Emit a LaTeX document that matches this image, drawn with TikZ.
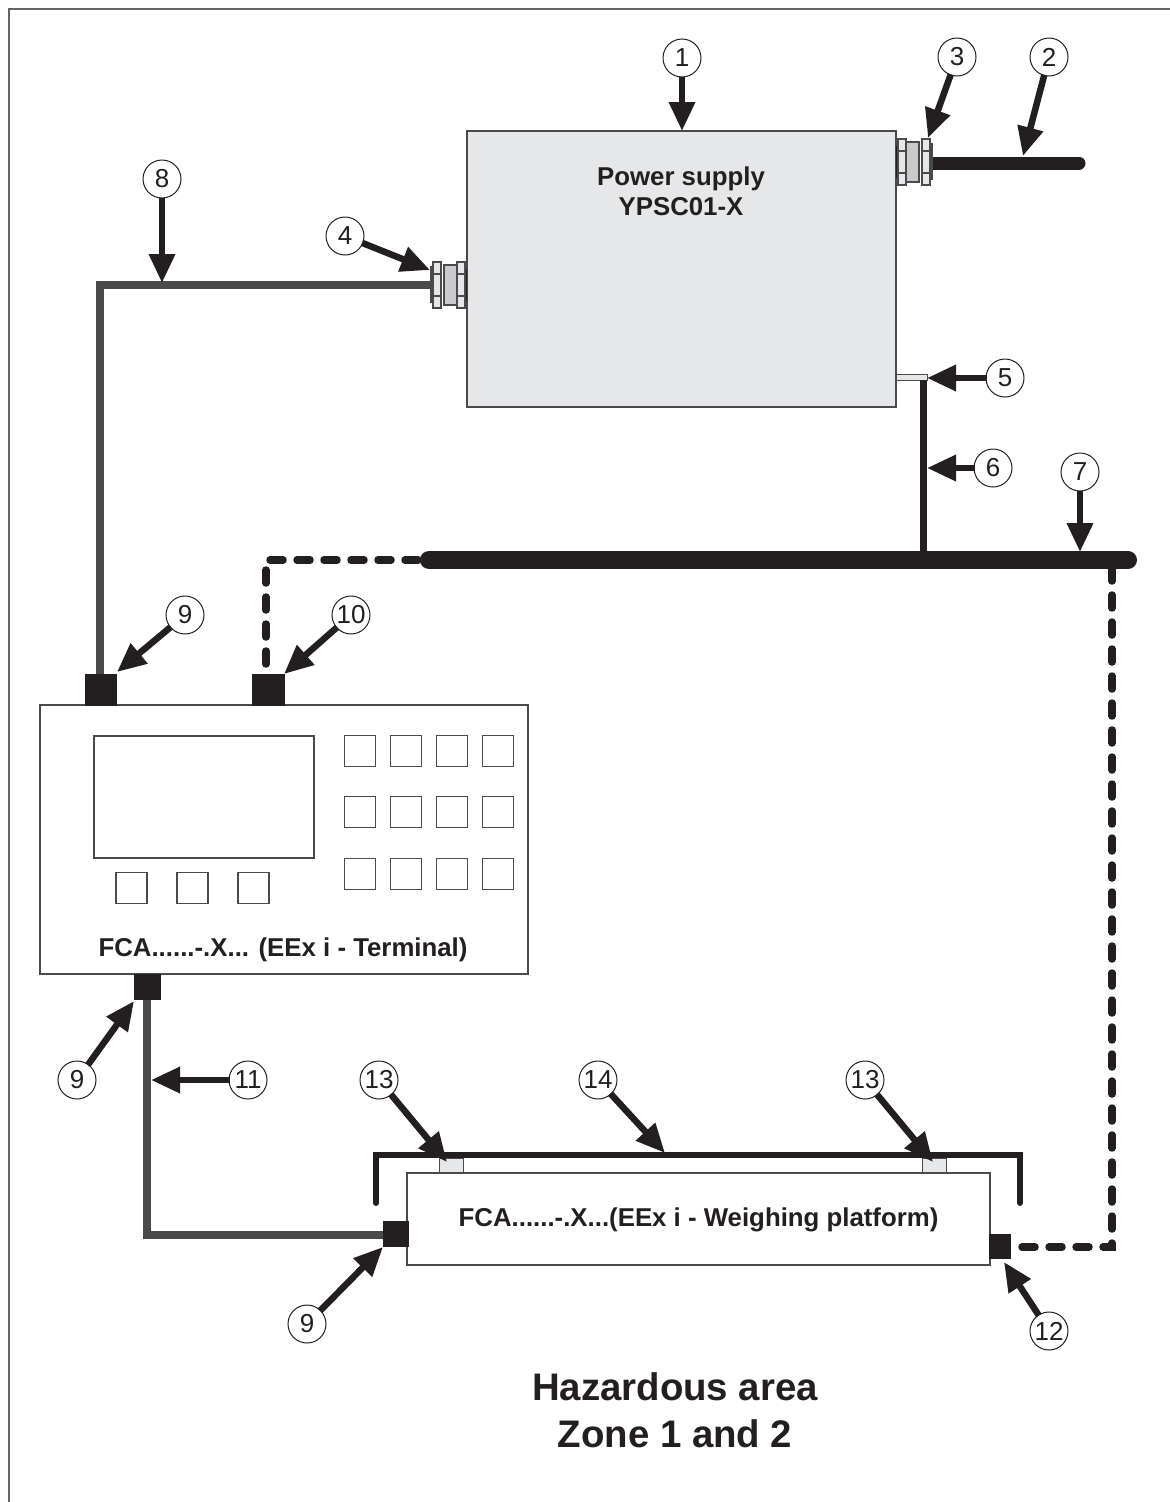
\documentclass[tikz,border=0pt]{standalone}
\usepackage{fontspec}
\setmainfont{Liberation Sans}
\usetikzlibrary{arrows.meta}
\definecolor{ink}{HTML}{231F20}
\definecolor{edge}{HTML}{4A4A4C}
\definecolor{cablegrey}{HTML}{4A4A4A}
\definecolor{boxgrey}{HTML}{E6E7E8}
\definecolor{glandgrey}{HTML}{C9CACC}
\tikzset{
  numcirc/.style={circle,draw=ink,line width=1pt,fill=white,minimum size=38pt,inner sep=0pt,
    font=\fontsize{26}{26}\selectfont,text=ink},
  pointer/.style={draw=ink,line width=6.5pt,-{Triangle[length=29pt,width=25pt]},shorten <=-1pt},
  panel/.style={rectangle,draw=edge,line width=1.3pt,inner sep=0pt},
  keybox/.style={rectangle,draw=edge,line width=1.3pt,inner sep=0pt,minimum size=31pt},
  plug/.style={rectangle,fill=ink,inner sep=0pt},
  label/.style={font=\bfseries\fontsize{25.8}{30}\selectfont,text=ink,align=center},
  darkcable/.style={draw=cablegrey,line width=8pt,line join=miter},
  blackcable/.style={draw=ink,line cap=round},
  buscable/.style={draw=ink,line width=7.5pt,line cap=round,dash pattern=on 13pt off 14pt},
  plate/.style={draw=edge,line width=1.5pt,fill=boxgrey},
  body/.style={draw=edge,line width=1.5pt,fill=glandgrey},
}
\newcommand{\glandshape}{%
  % drawn for a box face on the right at x=0; centre height y=0
  \fill[ink] (-3,-16) rectangle (1,16);
  \draw[body] (-22,-20) rectangle (-8,20);
  \draw[plate] (-35,-18) rectangle (-32,17);
  \draw[plate] (-33,-23) rectangle (-25,23);
  \draw[plate] (-9,-23) rectangle (-1,23);
  \draw[edge,line width=1.5pt] (-33,-11) -- (-25,-11) (-33,11) -- (-25,11) (-9,-11) -- (-1,-11) (-9,11) -- (-1,11);
}
\begin{document}
\begin{tikzpicture}[x=1pt,y=-1pt]
\useasboundingbox (0,0) rectangle (1170,1502);
\fill[white] (0,0) rectangle (1170,1502);
% frame
\draw[draw=edge!85!white,line width=2pt] (9,1502) -- (9,9) -- (1170,9);

% power supply
\node[panel,fill=boxgrey,minimum width=429pt,minimum height=276pt] (psu) at (681.5,269) {};
\node[label] (psulabel) at (681,191) {Power supply\\YPSC01-X};

% cables behind
\coordinate (c2s) at (930,163);
\coordinate (c2e) at (1079,163);
\draw[blackcable,line width=13pt] (c2s) -- (c2e);
\coordinate (c8a) at (432,285);
\coordinate (c8b) at (100,285);
\coordinate (p9a) at (100,680);
\draw[darkcable] (c8a) -- (c8b) -- (p9a);

% glands
\begin{scope}[shift={(466,285)}]\glandshape\end{scope}
\begin{scope}[shift={(897,162)},xscale=-1]\glandshape\end{scope}

% item 5 / 6 / bus 7
\node[rectangle,draw=edge,line width=0.8pt,fill=boxgrey,minimum width=31pt,minimum height=6pt,inner sep=0pt] (stub) at (912,377) {};
\coordinate (c6a) at (923,380);
\coordinate (c6b) at (923,552);
\draw[draw=ink,line width=7pt] (c6a) -- (c6b);
\coordinate (b1) at (429,560);
\coordinate (b2) at (1128,560);
\draw[blackcable,line width=18pt] (b1) -- (b2);

% dashed buses
\coordinate (d1) at (418,560);
\coordinate (d2) at (266,560);
\coordinate (d3) at (266,680);
\draw[buscable] (d1) -- (d2) -- (d3);
\coordinate (d4) at (1112,568);
\coordinate (d5) at (1112,1247);
\coordinate (d6) at (1008,1247);
\draw[buscable] (d4) -- (d5) -- (d6);

% terminal
\node[panel,fill=white,minimum width=488pt,minimum height=269pt] (terminal) at (284,839.5) {};
\node[panel,fill=white,minimum width=220pt,minimum height=122pt] (screen) at (204,797) {};
\foreach \nx/\cx in {a/360,b/406,c/452,d/498}{
  \foreach \ny/\cy in {a/751,b/812,c/874}{
    \node[keybox] (key\nx\ny) at (\cx,\cy) {};
  }
}
\node[keybox] (softa) at (131.5,888) {};
\node[keybox] (softb) at (192.5,888) {};
\node[keybox] (softc) at (253.5,888) {};
\node[label] (termlabel) at (283,950) {FCA......-.X... (EEx i - Terminal)};

% cable 11
\coordinate (c11a) at (147,995);
\coordinate (c11b) at (147,1235);
\coordinate (c11c) at (390,1235);
\draw[darkcable] (c11a) -- (c11b) -- (c11c);

% platform
\coordinate (f1) at (376,1203);
\coordinate (f2) at (376,1155);
\coordinate (f3) at (1020,1155);
\coordinate (f4) at (1020,1203);
\draw[draw=ink,line width=6pt,line cap=round,line join=miter] (f1) -- (f2) -- (f3) -- (f4);
\node[rectangle,draw=edge,line width=0.8pt,fill=boxgrey,minimum width=24pt,minimum height=15pt,inner sep=0pt] (pada) at (451.5,1165.5) {};
\node[rectangle,draw=edge,line width=0.8pt,fill=boxgrey,minimum width=24pt,minimum height=15pt,inner sep=0pt] (padb) at (934,1165.5) {};
\node[panel,fill=white,minimum width=583pt,minimum height=92pt] (platform) at (698.5,1219) {};
\node[label] (platlabel) at (698.5,1220) {FCA......-.X...(EEx i - Weighing platform)};

% plugs
\node[plug,minimum width=32pt,minimum height=32pt] (plugA) at (101,690) {};
\node[plug,minimum width=33pt,minimum height=32pt] (plugB) at (268.5,690) {};
\node[plug,minimum width=27pt,minimum height=26pt] (plugC) at (147.5,987) {};
\node[plug,minimum width=26pt,minimum height=26pt] (plugD) at (396,1234) {};
\node[plug,minimum width=22pt,minimum height=25pt] (plugE) at (1000,1246.5) {};

% title
\node[font=\bfseries\fontsize{38.4}{47}\selectfont,text=ink,align=center] (title) at (675,1410) {Hazardous area\\Zone 1 and 2};

% numbered circles
\node[numcirc] (n1) at (682,58) {1};
\node[numcirc] (n2) at (1049,57) {2};
\node[numcirc] (n3) at (957,57) {3};
\node[numcirc] (n4) at (345,236) {4};
\node[numcirc] (n5) at (1005,378) {5};
\node[numcirc] (n6) at (993,468) {6};
\node[numcirc] (n7) at (1080,472) {7};
\node[numcirc] (n8) at (162,179) {8};
\node[numcirc] (n9a) at (185,615) {9};
\node[numcirc] (n10) at (351,615) {10};
\node[numcirc] (n9b) at (77,1080) {9};
\node[numcirc] (n11) at (248,1080) {11};
\node[numcirc] (n13a) at (379,1080) {13};
\node[numcirc] (n14) at (598,1080) {14};
\node[numcirc] (n13b) at (865,1080) {13};
\node[numcirc] (n9c) at (307,1324) {9};
\node[numcirc] (n12) at (1049,1331) {12};

% pointer targets
\coordinate (t1) at (682,131);
\coordinate (t2) at (1023,156);
\coordinate (t3) at (928,138);
\coordinate (t4) at (430,270);
\coordinate (t5) at (927,378);
\coordinate (t6) at (927,468);
\coordinate (t7) at (1080,552);
\coordinate (t8) at (162,283);
\coordinate (t9a) at (117,672);
\coordinate (t10) at (284,674);
\coordinate (t9b) at (134,1001);
\coordinate (t11) at (151,1080);
\coordinate (t13a) at (447,1162);
\coordinate (t14) at (665,1153);
\coordinate (t13b) at (933,1162);
\coordinate (t9c) at (383,1247);
\coordinate (t12) at (1004,1262);

\foreach \from/\to in {n1/t1,n2/t2,n3/t3,n4/t4,n5/t5,n6/t6,n7/t7,n8/t8,n9a/t9a,n10/t10,n9b/t9b,n11/t11,n13a/t13a,n14/t14,n13b/t13b,n9c/t9c,n12/t12}{
  \draw[pointer] (\from) -- (\to);
}
\end{tikzpicture}
\end{document}
